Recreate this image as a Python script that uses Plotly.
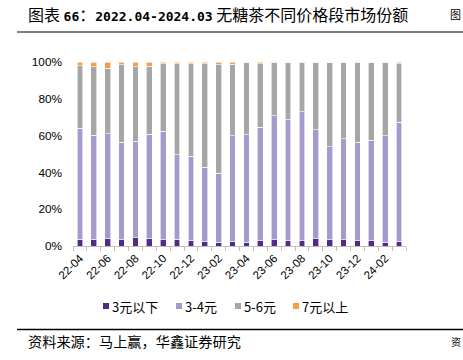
import plotly.graph_objects as go

months = ["22-04","22-05","22-06","22-07","22-08","22-09","22-10","22-11","22-12","23-01","23-02","23-03",
          "23-04","23-05","23-06","23-07","23-08","23-09","23-10","23-11","23-12","24-01","24-02","24-03"]
tick_labels = [m if i % 2 == 0 else "" for i, m in enumerate(months)]
y_ticks = [0, 20, 40, 60, 80, 100]
y_tick_labels = ["0%", "20%", "40%", "60%", "80%", "100%"]

# cumulative tops (%)
below3 = [3.8, 3.8, 4.2, 3.8, 4.4, 4.2, 3.5, 3.8, 2.9, 2.4, 2.0, 2.7,
          2.1, 2.9, 3.3, 2.9, 2.9, 4.0, 3.5, 3.5, 2.9, 2.9, 1.7, 2.2]
top_3to4 = [64.0, 60.2, 60.9, 56.4, 56.9, 60.7, 62.4, 49.6, 48.7, 42.7, 39.5, 59.8,
            60.4, 64.5, 70.7, 68.5, 72.9, 63.1, 54.0, 58.2, 56.5, 57.5, 59.8, 67.3]
top_5to6 = [98.0, 97.3, 96.5, 98.4, 97.5, 97.8, 99.1, 99.1, 99.1, 99.1, 98.4, 98.7,
            99.6, 99.0, 99.6, 99.6, 99.6, 99.7, 99.8, 99.7, 99.7, 99.7, 99.8, 99.0]

s3to4 = [round(b - a, 1) for a, b in zip(below3, top_3to4)]
s5to6 = [round(b - a, 1) for a, b in zip(top_3to4, top_5to6)]
s7up = [round(100 - t, 1) for t in top_5to6]

series_names = ["3元以下", "3-4元", "5-6元", "7元以上"]
series_vals = [below3, s3to4, s5to6, s7up]
colors = ["#4F2D87", "#A699CD", "#A6A6A6", "#F89B4B"]

# layout geometry (pixels)
L, R, T, B, W, H = 73, 57, 62, 114, 463, 360
PW, PH = W - L - R, H - T - B
def px(x): return (x - L) / PW
def py(y): return (T + PH - y) / PH

fig = go.Figure()
for name, vals, c in zip(series_names, series_vals, colors):
    fig.add_trace(go.Bar(x=months, y=vals, name=name,
                         marker=dict(color=c, line=dict(color="white", width=0.6)),
                         width=0.42, showlegend=False))

mono = "font-family:'DejaVu Sans Mono';font-size:13px;font-weight:bold"
title_text = (f"图表 <span style=\"{mono}\">66</span>：<span style=\"{mono}\">2022.04-2024.03</span>"
              " 无糖茶不同价格段市场份额")

# legend drawn as keys + text
legend_key_x = [103, 176, 235, 293]
shapes = [
    dict(type="line", xref="paper", yref="paper", x0=px(17), x1=px(470), y0=py(32), y1=py(32),
         line=dict(color="#7F7F7F", width=2)),
    dict(type="line", xref="paper", yref="paper", x0=px(17), x1=px(470), y0=py(329.5), y1=py(329.5),
         line=dict(color="#000", width=1.5)),
]
annotations = [
    dict(text=title_text, xref="paper", yref="paper",
         x=px(26), y=py(14), xanchor="left", yanchor="middle", showarrow=False,
         font=dict(family="Noto Sans CJK SC", size=16, color="#000")),
    dict(text="图", xref="paper", yref="paper", x=px(463), y=py(14), xanchor="right", yanchor="middle",
         showarrow=False, font=dict(family="Noto Sans CJK SC", size=11, color="#000")),
    dict(text="资料来源：马上赢，华鑫证券研究", xref="paper", yref="paper",
         x=px(26), y=py(341), xanchor="left", yanchor="middle", showarrow=False,
         font=dict(family="Noto Sans CJK SC", size=14.2, color="#000")),
    dict(text="资", xref="paper", yref="paper", x=px(463), y=py(341), xanchor="right", yanchor="middle",
         showarrow=False, font=dict(family="Noto Sans CJK SC", size=10, color="#000")),
]
for kx, name, c in zip(legend_key_x, series_names, colors):
    shapes.append(dict(type="rect", xref="paper", yref="paper", x0=px(kx), x1=px(kx + 6),
                       y0=py(309), y1=py(303), fillcolor=c, line=dict(width=0)))
    annotations.append(dict(text=name, xref="paper", yref="paper", x=px(kx + 7), y=py(306),
                            xanchor="left", yanchor="middle", showarrow=False,
                            font=dict(family="Noto Sans CJK SC", size=13, color="#000")))

fig.update_layout(
    width=W, height=H,
    barmode="stack",
    plot_bgcolor="white", paper_bgcolor="white",
    margin=dict(l=L, r=R, t=T, b=B, autoexpand=False),
    font=dict(family="Liberation Sans, Arial", size=12, color="#000"),
    showlegend=False,
    xaxis=dict(type="category", tickmode="array", tickvals=months, ticktext=tick_labels,
               tickangle=-45, tickson="boundaries", ticks="outside", ticklen=4, tickcolor="#BFBFBF",
               showline=True, linecolor="#BFBFBF", linewidth=1, showgrid=False, automargin=False,
               tickfont=dict(size=11.5, color="#000"), range=[-0.5, 23.5]),
    yaxis=dict(range=[0, 100], tickmode="array", tickvals=y_ticks, ticktext=y_tick_labels,
               showgrid=False, showline=False, zeroline=False, ticks="", automargin=False,
               ticklabelstandoff=10, tickfont=dict(size=11.8, color="#000")),
    shapes=shapes,
    annotations=annotations,
)

fig.write_html("out.html", config={"displayModeBar": False},
               post_script="document.body.style.margin='0';document.body.style.overflow='hidden';")
